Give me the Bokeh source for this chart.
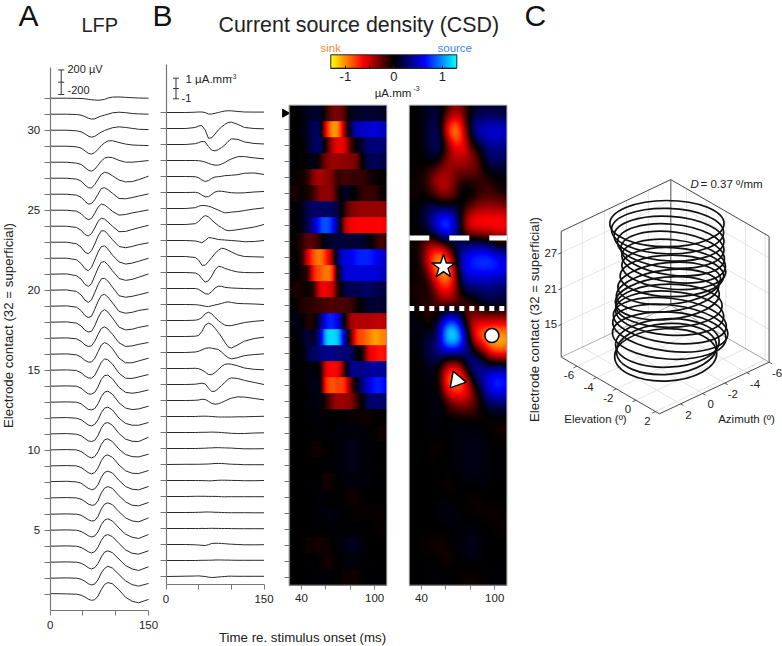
import numpy as np
from bokeh.plotting import figure
from bokeh.embed import file_html
from bokeh.resources import INLINE
from bokeh.models import Range1d, LinearAxis, FixedTicker, Label, LinearColorMapper, ColumnDataSource

# ---------- data ----------
contacts_lfp = list(range(32, 0, -1))
t_lfp = [0,25,40,47,53,58,63,68,73,78,83,88,95,105,115,125,135,150]
lfp_uv = [
[0,0,-3,-5,-10,-18,-25,-30,-33,-28,-20,2,18,20,14,8,3,0],
[0,0,-5,-15,-40,-65,-80,-75,-50,-30,-15,0,22,33,25,12,5,0],
[0,0,-10,-25,-60,-95,-115,-100,-65,-30,-5,15,40,55,45,30,15,10],
[0,0,-10,-30,-75,-115,-130,-105,-50,10,55,85,90,60,35,20,15,10],
[0,0,-15,-35,-85,-130,-147,-115,-50,20,65,82,75,30,0,0,10,27],
[0,0,-15,-45,-110,-155,-160,-105,-20,65,98,85,40,-30,-60,-55,-25,33],
[0,0,-15,-50,-115,-160,-155,-90,0,95,105,75,15,-70,-75,-55,-30,5],
[0,0,-15,-55,-120,-155,-135,-50,50,100,85,45,-20,-80,-70,-45,-25,5],
[0,0,-20,-65,-135,-160,-120,-30,80,130,115,70,0,-90,-85,-55,-25,15],
[0,0,-25,-80,-160,-190,-140,-30,100,185,185,130,40,-70,-90,-70,-40,-10],
[0,0,-25,-85,-170,-205,-150,-30,100,190,200,150,50,-60,-95,-80,-50,0],
[0,5,-25,-80,-165,-200,-155,-30,100,195,205,155,55,-70,-100,-85,-50,5],
[0,5,-20,-75,-160,-200,-160,-40,90,185,195,150,50,-90,-115,-100,-75,-35],
[0,5,-15,-70,-150,-185,-165,-50,80,175,195,150,55,-85,-115,-100,-70,-45],
[0,5,-15,-60,-130,-160,-150,-60,70,170,205,165,70,-80,-125,-115,-85,-55],
[0,5,-10,-50,-110,-135,-125,-50,60,160,185,150,65,-75,-135,-125,-100,-70],
[0,5,-10,-45,-100,-128,-128,-70,40,150,190,165,90,-65,-140,-140,-110,-65],
[0,5,-5,-40,-95,-125,-130,-85,20,130,185,170,100,-50,-130,-135,-110,-70],
[0,5,0,-30,-85,-125,-130,-100,-10,110,175,180,120,-20,-100,-115,-100,-60],
[0,5,0,-25,-75,-118,-125,-105,-25,90,165,180,130,-10,-95,-120,-110,-65],
[5,10,0,-25,-70,-110,-125,-100,-25,90,165,180,135,0,-85,-115,-115,-70],
[5,10,0,-25,-70,-108,-120,-100,-20,100,175,190,145,10,-80,-115,-120,-50],
[5,10,5,-20,-65,-105,-125,-105,-25,95,170,185,140,15,-70,-105,-110,-65],
[5,10,5,-20,-65,-105,-125,-105,-30,90,165,185,145,20,-75,-115,-120,-70],
[10,15,5,-15,-60,-100,-122,-110,-40,80,160,180,150,30,-70,-115,-125,-70],
[5,10,5,-15,-55,-95,-115,-110,-40,85,165,190,160,40,-60,-115,-125,-70],
[0,5,0,-15,-55,-90,-110,-105,-35,85,165,185,155,40,-60,-110,-125,-60],
[0,5,0,-20,-55,-90,-110,-95,-25,90,165,185,150,35,-65,-115,-135,-70],
[0,5,0,-20,-55,-90,-110,-90,-15,95,170,190,155,45,-60,-115,-130,-75],
[0,5,0,-15,-50,-90,-110,-90,-20,85,165,185,155,50,-55,-110,-135,-75],
[0,5,0,-15,-50,-90,-110,-95,-25,85,160,195,165,60,-45,-105,-130,-85],
[10,5,0,-15,-45,-80,-100,-90,-30,75,160,190,170,70,-50,-115,-140,-85],
]
contacts_csd = list(range(31, 1, -1))
t_csd = [0,30,45,50,55,60,65,70,75,80,85,90,95,100,110,120,135,150]
csd_ua = [
[0,0,.03,.05,.05,0,-.15,-.15,-.08,0,.08,.14,.17,.16,.1,.05,.04,.04],
[0,0,.1,.25,.28,-.15,-.95,-.9,-.55,-.15,.15,.4,.58,.62,.4,.1,0,-.03],
[0,0,.08,.18,.3,.25,-.2,-.55,-.62,-.5,-.3,-.05,.3,.55,.5,.25,.1,.05],
[0,0,0,-.02,-.07,-.15,-.28,-.38,-.45,-.45,-.35,-.2,0,.15,.38,.38,.25,.16],
[0,0,-.02,-.12,-.35,-.48,-.4,-.18,-.05,-.02,.02,.08,.1,.12,.18,.32,.34,.2],
[0,0,.02,-.05,-.25,-.42,-.4,-.18,.05,.13,.12,.08,.02,-.02,-.05,-.03,.05,.1],
[0,0,.08,.22,.3,.28,.22,.12,-.02,-.15,-.3,-.42,-.4,-.35,-.3,-.2,-.05,.06],
[0,0,.08,.3,.65,.87,.75,.45,.15,-.1,-.3,-.5,-.6,-.58,-.5,-.4,-.25,0],
[0,0,-.05,-.12,-.22,0,.28,.25,.18,.1,.07,.05,.02,0,-.05,-.12,-.1,0],
[0,0,-.1,-.35,-.85,-.85,-.5,-.1,.3,.6,.8,.75,.6,.45,.15,0,-.03,-.06],
[0,0,-.05,-.2,-.6,-.94,-.8,-.35,.25,.6,.55,.4,.3,.2,.05,0,-.02,0],
[0,0,0,-.08,-.3,-.5,-.55,-.3,.05,.22,.2,.12,.08,.05,.02,0,-.03,-.02],
[0,0,-.02,-.05,-.1,-.17,-.2,-.12,-.05,.02,.1,.2,.26,.2,.1,.08,.05,0],
[0,0,.03,.1,.3,.65,.8,.65,.3,0,-.25,-.45,-.5,-.5,-.35,-.2,-.08,0],
[0,0,.03,.1,.5,1.1,1.3,1.15,.8,.4,-.05,-.55,-1.0,-1.13,-.8,-.45,-.2,-.07],
[0,0,.05,.12,.25,.4,.45,.42,.35,.3,.05,-.25,-.5,-.62,-.5,-.3,-.2,-.13],
[0,0,.02,-.02,-.15,-.35,-.58,-.6,-.4,-.1,.2,.4,.45,.42,.25,.05,-.08,-.13],
[0,0,.03,.08,.13,.05,-.35,-.68,-.65,-.4,-.1,.2,.5,.65,.58,.4,.2,0],
[0,0,.02,.05,.12,.1,-.08,-.28,-.36,-.32,-.2,-.05,.1,.22,.36,.33,.2,.06],
[0,0,0,.02,.03,.03,.02,0,-.03,-.05,-.05,-.05,-.05,-.05,-.03,-.03,0,.02],
[0,0,0,.01,.02,.02,.03,.04,.03,.02,0,-.03,-.05,-.08,-.1,-.1,-.05,-.03],
[0,0,0,.01,.02,.03,.05,.06,.08,.08,.07,.06,.05,.04,0,-.03,-.03,-.02],
[0,.02,.02,.02,.03,.04,.05,.07,.1,.1,.1,.08,.05,.03,.01,-.02,-.02,-.02],
[0,0,0,0,-.01,-.02,-.03,-.03,0,.02,.03,.03,.02,.01,0,-.02,-.02,0],
[0,0,.02,.02,.02,.02,.01,.01,.01,0,-.02,-.03,-.02,-.02,-.02,-.02,-.02,-.02],
[0,0,.01,.02,.03,.05,.05,.04,.02,.02,0,-.01,-.02,-.02,-.02,-.02,-.03,-.03],
[0,0,0,0,.01,0,.01,.02,.01,.01,0,0,0,-.01,-.02,-.02,-.02,-.02],
[0,0,-.03,-.05,-.08,-.1,-.02,.1,.12,.12,.1,.08,.05,.03,0,-.03,-.03,-.02],
[0,0,0,.01,.02,.02,.03,.03,.05,.05,.05,.04,.04,.03,.02,.02,.02,.02],
[0,.03,.05,.06,.03,0,-.06,-.1,-.08,-.05,-.02,0,.03,.03,.02,.02,.02,.02],
]
# heat map: rows contact 31..2, columns 30..110 ms by 5 ms
heat_t = list(range(30, 111, 5))
heat_csd = [
[0,0,.02,.08,.1,.1,-.1,-.28,-.3,-.2,.05,.1,.12,.12,.12,.1,.1],
[0,0,.03,.1,.22,.15,-.6,-1.0,-.95,-.4,.2,.45,.5,.52,.55,.5,.45],
[0,0,0,.1,.22,.25,-.1,-.45,-.6,-.55,-.2,.02,.15,.3,.3,.3,.25],
[0,0,-.02,.03,.05,-.08,-.3,-.38,-.38,-.36,-.34,-.27,.02,.2,.22,.2,.15],
[0,-.02,-.04,-.12,-.34,-.42,-.38,-.3,-.13,-.17,-.15,-.13,-.13,-.07,-.03,0,0],
[-.02,-.06,-.02,-.06,-.16,-.34,-.36,-.32,-.06,.08,.06,-.04,-.12,-.14,-.12,-.04,-.02],
[0,.02,.05,.2,.25,.25,.25,.22,.12,-.1,-.3,-.35,-.38,-.38,-.38,-.38,-.35],
[0,.02,.05,.2,.45,.75,.85,.7,.25,-.4,-.6,-.65,-.65,-.65,-.65,-.65,-.6],
[0,-.03,-.1,-.22,-.2,-.1,.08,.12,.15,.15,.12,.15,.1,.05,-.08,-.18,-.1],
[0,-.02,-.1,-.55,-.85,-.95,-.75,-.35,.3,.55,.6,.7,.72,.72,.65,.55,.5],
[0,0,-.05,-.15,-.7,-.85,-.95,-.8,.05,.5,.55,.55,.55,.55,.55,.5,.45],
[-.02,-.06,-.05,-.02,-.15,-.55,-.6,-.5,-.1,.15,.2,.2,.25,.25,.2,.18,.15],
[0,-.02,-.08,-.1,-.12,-.15,-.18,-.2,-.18,-.18,-.15,-.05,.05,.12,.12,.12,.1],
[.02,.04,.02,-.08,-.05,.25,.65,.72,.55,.02,-.38,-.45,-.45,-.45,-.48,-.48,-.45],
[0,.02,.05,.15,.1,.45,1.1,1.2,1.1,.5,-.2,-.75,-.85,-.95,-1.05,-1.0,-.95],
[0,0,.02,.15,.25,.3,.35,.35,.3,.3,.25,.05,-.1,-.55,-.65,-.7,-.65],
[0,0,0,.02,.03,-.05,-.55,-.65,-.6,-.2,.3,.35,.35,.38,.4,.4,.35],
[0,0,0,.02,.05,0,-.7,-.85,-.8,-.75,-.3,.05,.35,.55,.7,.7,.6],
[0,0,0,.02,.03,.05,-.1,-.3,-.4,-.38,-.35,-.15,.03,.25,.28,.28,.25],
[0,0,0,.01,.02,.02,.01,0,0,-.01,-.02,-.02,-.03,-.03,-.01,-.01,-.01],
[0,0,0,0,.01,.01,.01,.01,.03,.03,.03,.03,.03,.01,-.02,-.03,-.03],
[0,0,0,-.01,-.03,-.03,-.01,.01,.02,.04,.05,.05,.03,.02,0,0,0],
[0,0,0,0,0,.01,.01,.01,.02,.04,.05,.05,.03,.02,.01,.01,.01],
[0,0,0,0,0,-.01,-.04,-.03,.01,.02,.03,.03,.03,.02,.01,0,0],
[0,0,0,0,.01,.02,.01,0,0,-.02,-.03,-.03,-.01,0,0,0,0],
[0,0,0,0,.01,.02,.03,.04,.02,.01,-.01,-.02,-.02,-.02,-.02,-.02,-.01],
[0,0,0,0,0,.01,.01,.01,.01,.01,.01,.01,0,0,-.01,-.02,-.02],
[0,0,-.01,-.03,-.04,-.05,-.04,0,.02,.05,.07,.06,.02,0,0,0,0],
[0,0,0,0,.01,-.02,-.04,-.03,0,.02,.02,.02,.01,.01,0,0,0],
[0,0,0,.01,.01,.02,.02,.01,-.01,-.03,-.03,-.03,-.01,.01,.01,.01,.01],
]
# receptive-field rings
ring_depth = [32,30.75,29.5,28.25,27,25.75,24.5,23.25,22,20.75,19.5,18.25,17,15.75,14.5,13.25,12,11,10]
ring_az = [-1.3,-1.33,-1.4,-1.48,-1.57,-1.62,-1.63,-1.54,-1.41,-1.33,-1.32,-1.4,-1.43,-1.44,-1.46,-1.41,-1.32,-1.28,-1.24]
ring_el = [-2.7,-2.67,-2.6,-2.52,-2.43,-2.38,-2.37,-2.46,-2.59,-2.67,-2.68,-2.6,-2.57,-2.56,-2.54,-2.59,-2.68,-2.72,-2.76]
ring_long = [3.86,3.79,3.72,3.61,3.52,3.52,3.52,3.5,3.48,3.48,3.52,3.59,3.66,3.84,3.91,3.84,3.5,3.39,3.45]
ring_short = [3.0,2.95,2.9,2.85,2.8,2.75,2.7,2.7,2.7,2.7,2.75,2.8,2.85,2.9,3.0,3.05,3.15,3.3,3.4]
ring_tilt = [0,-.03,-.06,-.09,-.12,-.12,-.07,0,.09,.12,.09,0,-.07,-.12,-.12,-.06,.04,.07,.04]
az_ticks = [-6,-4,-2,0,2]
el_ticks = [-6,-4,-2,0,2]
depth_ticks = [15,21,27]

# ---------- page geometry helpers ----------
W, H = 782, 646
FONT = "Liberation Sans"
INK = "#222222"
AX = "#777777"

p = figure(width=W, height=H, x_range=Range1d(0, W), y_range=Range1d(H, 0),
           x_axis_type=None, y_axis_type=None, toolbar_location=None,
           output_backend="svg", min_border=0, outline_line_color=None,
           background_fill_color="white", border_fill_color="white")
p.styles = {"position": "absolute", "left": "0px", "top": "0px"}

def xr(name, px0, v0, px1, v1):
    k = (v1 - v0) / (px1 - px0)
    p.extra_x_ranges[name] = Range1d(v0 - px0 * k, v0 + (W - px0) * k)

def yr(name, px0, v0, px1, v1):
    k = (v1 - v0) / (px1 - px0)
    p.extra_y_ranges[name] = Range1d(v0 + (H - px0) * k, v0 - px0 * k)

xr("tA", 49.7, 0, 148.0, 150)
yr("cA", 129.7, 30, 529.7, 5)
xr("tB", 165.5, 0, 263.5, 150)
yr("cB", 112.0, 31, 576.0, 2)
xr("tL", 288.7, 30, 386.3, 110)
xr("tR", 408.8, 30, 506.4, 110)
yr("cH", 112.7, 31, 576.7, 2)
xr("cb", 330.3, -1.3, 456.3, 1.3)

def text(x, y, s, size=11.5, color=INK, align="left", angle=0, style="normal"):
    """x, y is the centre line of the text."""
    p.add_layout(Label(x=x, y=y, text=s, text_font=FONT, text_font_size=f"{size}px",
                       text_color=color, text_align=align, text_baseline="middle",
                       angle=angle, angle_units="deg", text_font_style=style))

def xaxis(rng, loc, ticks, labels, lo, hi, color=AX, tick_out=5, tick_in=0, standoff=4, size=11.5):
    a = LinearAxis(x_range_name=rng, ticker=FixedTicker(ticks=ticks), fixed_location=loc,
                   bounds=(lo, hi), axis_line_color=color, major_tick_line_color=color,
                   major_tick_out=tick_out, major_tick_in=tick_in, minor_tick_line_color=None,
                   major_label_overrides={t: labels.get(t, "") for t in ticks},
                   major_label_text_font=FONT, major_label_text_font_size=f"{size}px",
                   major_label_text_color=INK, major_label_standoff=standoff,
                   axis_line_width=1.2)
    p.add_layout(a, "below")
    return a

def yaxis(rng, loc, ticks, labels, lo, hi, color=AX, tick_out=6):
    a = LinearAxis(y_range_name=rng, ticker=FixedTicker(ticks=ticks), fixed_location=loc,
                   bounds=(lo, hi), axis_line_color=color, major_tick_line_color=color,
                   major_tick_out=tick_out, major_tick_in=0, minor_tick_line_color=None,
                   major_label_overrides={t: labels.get(t, "") for t in ticks},
                   major_label_text_font=FONT, major_label_text_font_size="11.5px",
                   major_label_text_color=INK, major_label_standoff=4,
                   major_label_orientation="horizontal", axis_line_width=1.2)
    p.add_layout(a, "left")
    return a

# ---------- panel A ----------
UV_PER_CONTACT = 261.0
for c, row in zip(contacts_lfp, lfp_uv):
    p.line(t_lfp, [c + v / UV_PER_CONTACT for v in row], x_range_name="tA", y_range_name="cA",
           line_color="#2a2a2a", line_width=1)
xaxis("tA", 609.7, [0, 50, 100, 150], {0: "0", 150: "150"}, 0, 150, standoff=6)
yaxis("cA", 49.7, contacts_lfp, {30: "30", 25: "25", 20: "20", 15: "15", 10: "10", 5: "5"}, 0, 33.9)
bar_uv = [200, 0, -200]
ms_bar = 16.8
p.multi_line([[ms_bar, ms_bar]] + [[ms_bar - 4.6, ms_bar + 4.6] for _ in bar_uv],
             [[33.0 + bar_uv[0] / UV_PER_CONTACT, 33.0 + bar_uv[2] / UV_PER_CONTACT]] +
             [[33.0 + v / UV_PER_CONTACT] * 2 for v in bar_uv],
             x_range_name="tA", y_range_name="cA", line_color="#333333", line_width=1)
text(67, 68, "200 \u00b5V", 11)
text(67, 89, "-200", 11)

# ---------- panel B ----------
UA_PER_CONTACT = 1.553
for c, row in zip(contacts_csd, csd_ua):
    p.line(t_csd, [c + v / UA_PER_CONTACT for v in row], x_range_name="tB", y_range_name="cB",
           line_color="#2a2a2a", line_width=1)
xaxis("tB", 584.0, [0, 50, 100, 150], {0: "0", 150: "150"}, 0, 150, standoff=5)
yaxis("cB", 165.5, contacts_csd, {}, 1.5, 34.0)
ua_bar = [1, 0, -1]
ms_b = 15.3
p.multi_line([[ms_b, ms_b]] + [[ms_b - 4.5, ms_b + 4.5] for _ in ua_bar],
             [[32.5 + ua_bar[0] / UA_PER_CONTACT, 32.5 + ua_bar[2] / UA_PER_CONTACT]] +
             [[32.5 + v / UA_PER_CONTACT] * 2 for v in ua_bar],
             x_range_name="tB", y_range_name="cB", line_color="#333333", line_width=1)
text(185, 78, "1 \u00b5A.mm", 11.5)
text(230, 75.5, "-3", 6.5)
text(181, 97, "-1", 11)

# ---------- colour map ----------
def ramp(a, b, n):
    return [tuple(int(round(a[i] + (b[i] - a[i]) * k / (n - 1))) for i in range(3)) for k in range(n)]
rgb = (ramp((255, 255, 0), (255, 0, 0), 64) + ramp((255, 0, 0), (0, 0, 0), 64)[1:] +
       ramp((0, 0, 0), (0, 0, 255), 64)[1:] + ramp((0, 0, 255), (0, 255, 255), 64)[1:])
palette = ["#%02x%02x%02x" % c for c in rgb]
cmap = LinearColorMapper(palette=palette, low=-1.3, high=1.3)

def cubic(arr, pos, axis):
    arr = np.moveaxis(np.asarray(arr, float), axis, 0)
    i = np.floor(pos).astype(int)
    f = pos - i
    n = arr.shape[0]
    g = lambda k: arr[np.clip(k, 0, n - 1)]
    shape = (-1,) + (1,) * (arr.ndim - 1)
    f = f.reshape(shape)
    out = 0.5 * (2 * g(i) + (g(i + 1) - g(i - 1)) * f +
                 (2 * g(i - 1) - 5 * g(i) + 4 * g(i + 1) - g(i + 2)) * f ** 2 +
                 (3 * g(i) - g(i - 1) - 3 * g(i + 1) + g(i + 2)) * f ** 3)
    return np.moveaxis(out, 0, axis)

def blur(arr, sigma, axis):
    r = int(3 * sigma)
    k = np.exp(-0.5 * (np.arange(-r, r + 1) / sigma) ** 2)
    k /= k.sum()
    def one(v):
        return np.convolve(np.pad(v, r, mode="edge"), k, mode="valid")
    return np.apply_along_axis(one, axis, arr)

heat = np.array(heat_csd)[::-1]           # bottom row first
col_pos = np.linspace(0, heat.shape[1] - 1, 196)
row_pos = np.clip(np.linspace(-0.5, heat.shape[0] - 0.5, 480), 0, heat.shape[0] - 1)
blocky = cubic(heat, col_pos, 1)
smooth = cubic(blocky, row_pos, 0)
smooth = blur(blur(smooth, 7.0, 0), 8.0, 1) * 1.15
p.image(image=[blocky], x=heat_t[0], y=1.5, dw=heat_t[-1] - heat_t[0], dh=30, color_mapper=cmap,
        x_range_name="tL", y_range_name="cH")
p.image(image=[smooth], x=heat_t[0], y=1.5, dw=heat_t[-1] - heat_t[0], dh=30, color_mapper=cmap,
        x_range_name="tR", y_range_name="cH")
for rng in ["tL", "tR"]:
    p.rect([70], [16.5], width=80, height=30, x_range_name=rng, y_range_name="cH",
           fill_color=None, line_color="#999999", line_width=1)

heat_xticks = [40, 60, 80, 100]
heat_xlabels = {40: "40", 100: "100"}
xaxis("tL", 584.7, heat_xticks, heat_xlabels, 30, 110, tick_out=4, standoff=5)
xaxis("tR", 584.7, heat_xticks, heat_xlabels, 30, 110, tick_out=4, standoff=5)
yaxis("cH", 288.7, list(range(30, 1, -1)), {}, 1.5, 31.5, tick_out=5)
p.scatter([30 - 3.5], [31], x_range_name="tL", y_range_name="cH", marker="triangle", size=8, angle=-np.pi / 2,
          fill_color="black", line_color="black")
p.line(heat_t[0:1] + heat_t[-1:], [23.2, 23.2], x_range_name="tR", y_range_name="cH", line_color="white",
       line_width=5, line_dash="20 20")
p.line(heat_t[0:1] + heat_t[-1:], [18.8, 18.8], x_range_name="tR", y_range_name="cH", line_color="white",
       line_width=5, line_dash="5 5")
p.scatter([58], [21.4], x_range_name="tR", y_range_name="cH", marker="star", size=25,
          fill_color="white", line_color="black", line_width=1.4)
p.scatter([97.7], [17.1], x_range_name="tR", y_range_name="cH", marker="circle", size=14,
          fill_color="white", line_color="black", line_width=1.5)
p.scatter([68.7], [14.3], x_range_name="tR", y_range_name="cH", marker="triangle", size=17, angle=np.radians(20),
          fill_color="white", line_color="black", line_width=1.5)

# colour bar
p.image(image=[np.linspace(-1.3, 1.3, 126).reshape(1, -1)], x=-1.3, y=54.3, dw=2.6, dh=13.4, color_mapper=cmap,
        x_range_name="cb")
p.rect([0], [61.0], width=2.6, height=13.4, x_range_name="cb", fill_color=None, line_color="#222222", line_width=1)
xaxis("cb", 67.7, [-1, -0.5, 0, 0.5, 1], {-1: "-1", 0: "0", 1: "1"}, -1.3, 1.3, color="#222222",
      tick_out=0, tick_in=3, standoff=4, size=13)
text(392.5, 92, "\u00b5A.mm", 11.5, align="center")
text(413, 88, "-3", 7)
text(320, 47, "sink", 11.5, color="#F58A3C")
text(437, 47, "source", 11.5, color="#3B82F6")

# ---------- panel C ----------
AZ0, EL0, C0 = 3.9, 2.4, 9.53
AZ1, EL1, C1 = -6.0, -7.6, 30.6
def proj(az, el, c):
    az, el, c = np.asarray(az, float), np.asarray(el, float), np.asarray(c, float)
    a, b = AZ0 - az, EL0 - el
    return 659.0 + a * 11.07 - b * 9.83, 413.3 - a * 5.22 - b * 5.67 - (c - C0) * 5.97

def seg3(pts):
    az, el, c = zip(*pts)
    return [list(v) for v in proj(az, el, c)]

grid = []
for v in [-4, -2, 0, 2]:
    grid.append(seg3([(v, EL1, C0), (v, EL1, C1)]))
    grid.append(seg3([(v, EL0, C0), (v, EL1, C0)]))
for v in [-6, -4, -2, 0, 2]:
    grid.append(seg3([(AZ1, v, C0), (AZ1, v, C1)]))
    grid.append(seg3([(AZ0, v, C0), (AZ1, v, C0)]))
grid.append(seg3([(-6, EL0, C0), (-6, EL1, C0)]))
for d in depth_ticks:
    grid.append(seg3([(AZ0, EL1, d), (AZ1, EL1, d), (AZ1, EL0, d)]))
p.multi_line([g[0] for g in grid], [g[1] for g in grid], line_color="#dddddd", line_width=0.8)

box = [
    seg3([(AZ0, EL1, C1), (AZ1, EL1, C1), (AZ1, EL0, C1)]),
    seg3([(AZ0, EL1, C1), (AZ0, EL1, C0), (AZ0, EL0, C0), (AZ1, EL0, C0), (AZ1, EL0, C1)]),
]
p.multi_line([b[0] for b in box], [b[1] for b in box], line_color="#333333", line_width=0.9)
back = [seg3([(AZ1, EL1, C0), (AZ1, EL1, C1)]), seg3([(AZ0, EL1, C0), (AZ1, EL1, C0), (AZ1, EL0, C0)])]
p.multi_line([back[0][0]], [back[0][1]], line_color="#777777", line_width=1.3)
p.multi_line([back[1][0]], [back[1][1]], line_color="#999999", line_width=0.8)

rx, ry = proj(ring_az, ring_el, ring_depth)
src = ColumnDataSource(dict(x=rx, y=ry, w=2 * np.array(ring_long) * 14.8, h=2 * np.array(ring_short) * 7.7,
                            a=np.array(ring_tilt)))
p.ellipse(x="x", y="y", width="w", height="h", angle="a", source=src, fill_color=None,
          line_color="#111111", line_width=1.7)

ticks = [seg3([(AZ0, EL1, d), (AZ0 + 0.25, EL1, d)]) for d in depth_ticks]
ticks += [seg3([(v, EL0, C0), (v, EL0 + 0.3, C0)]) for v in az_ticks]
ticks += [seg3([(AZ0, v, C0), (AZ0 + 0.3, v, C0)]) for v in el_ticks]
p.multi_line([t[0] for t in ticks], [t[1] for t in ticks], line_color="#333333", line_width=0.8)
for d in depth_ticks:
    sx, sy = proj(AZ0, EL1, d)
    text(float(sx) - 4, float(sy), str(d), 11.5, align="right")
for v in az_ticks:
    sx, sy = proj(v, EL0, C0)
    text(float(sx) + 8, float(sy) + 11, str(v), 11.5, align="center")
for v in el_ticks:
    sx, sy = proj(AZ0, v, C0)
    text(float(sx) - 8, float(sy) + 9, str(v), 11.5, align="center")

# ---------- titles ----------
text(18, 15, "A", 30, color="#111111")
text(152, 15, "B", 30, color="#111111")
text(524, 15, "C", 30, color="#111111")
text(81, 24, "LFP", 20)
text(218, 24, "Current source density (CSD)", 21.4)
text(8, 325, "Electrode contact (32 = superficial)", 13.3, align="center", angle=90)
text(302, 637, "Time re. stimulus onset (ms)", 13.3, align="center")
text(534, 319, "Electrode contact (32 = superficial)", 13.3, align="center", angle=90)
text(595, 418, "Elevation (\u00ba)", 11.5, align="center")
text(746, 418, "Azimuth (\u00ba)", 11.5, align="center")
text(690, 183, "D", 11.5, style="italic")
text(700, 183, "= 0.37 \u00ba/mm", 11.5)

open("out.html", "w").write(file_html(p, INLINE))
